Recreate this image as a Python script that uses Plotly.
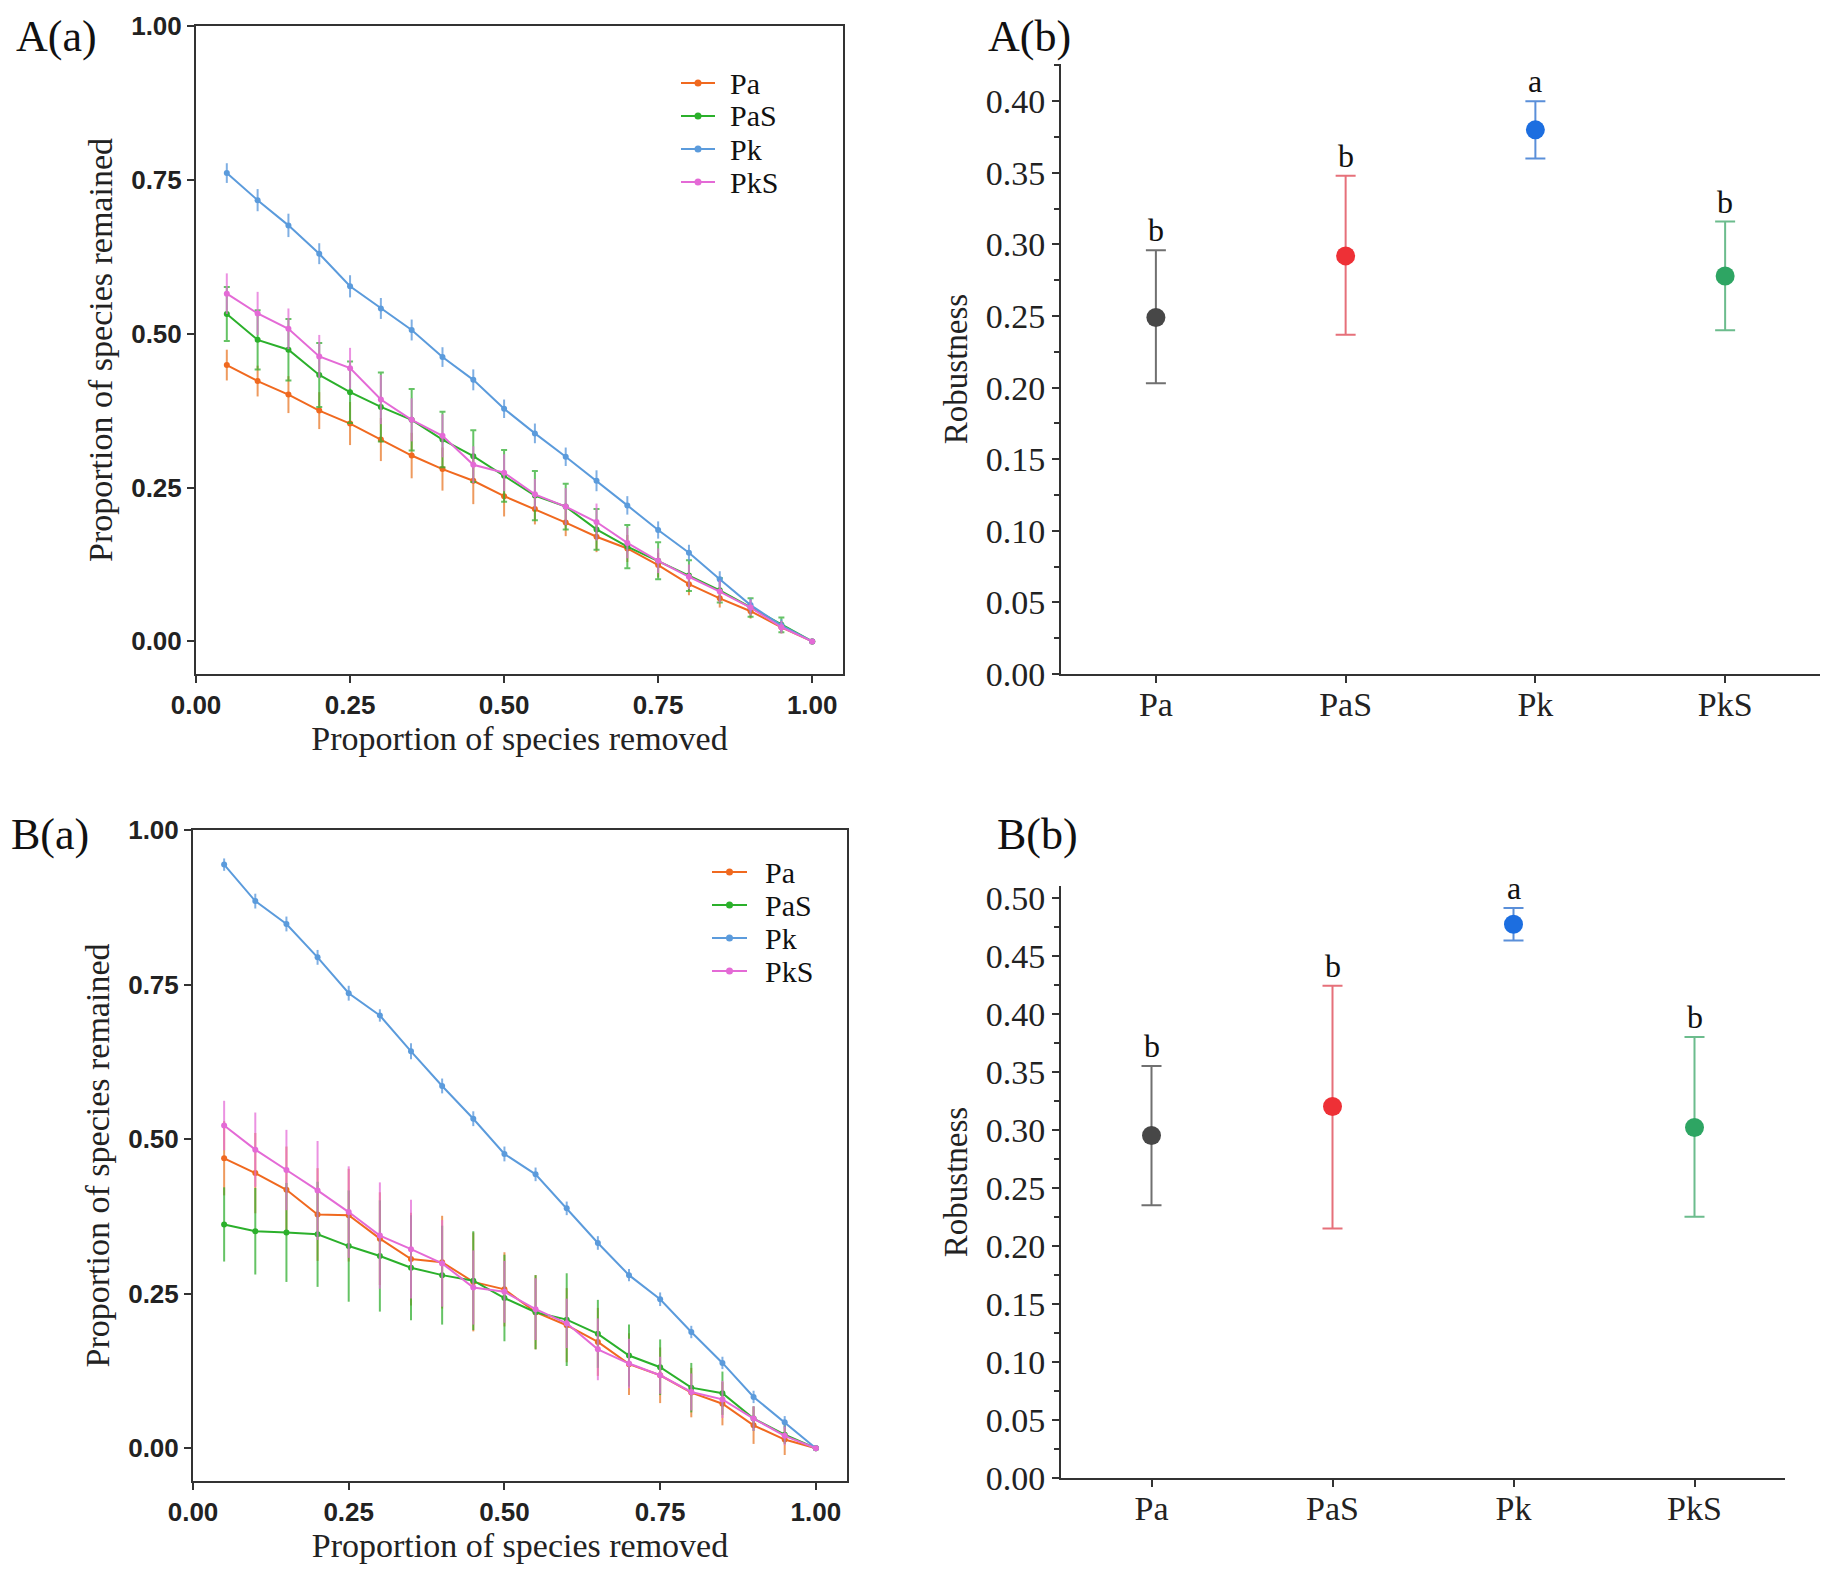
"""
Robustness of the networks to species removal.
Left panels: attack tolerance curves, right panels: robustness per treatment.
"""

import plotly.graph_objects as go

# Proportion of species removed (x of the tolerance curves)
removed = [0.05, 0.10, 0.15, 0.20, 0.25, 0.30, 0.35, 0.40, 0.45, 0.50,
           0.55, 0.60, 0.65, 0.70, 0.75, 0.80, 0.85, 0.90, 0.95, 1.00]
series_names = ["Pa", "PaS", "Pk", "PkS"]

# A(a) proportion of species remained
a_pa = [0.449, 0.423, 0.401, 0.375, 0.354, 0.328, 0.302, 0.280, 0.261, 0.236,
        0.215, 0.193, 0.170, 0.151, 0.124, 0.093, 0.070, 0.049, 0.023, 0.0]
a_pa_err = [0.025, 0.025, 0.030, 0.030, 0.035, 0.035, 0.037, 0.035, 0.038, 0.033,
            0.025, 0.022, 0.025, 0.022, 0.020, 0.018, 0.015, 0.012, 0.010, 0.0]
a_pas = [0.532, 0.490, 0.474, 0.433, 0.405, 0.381, 0.360, 0.328, 0.301, 0.269,
         0.237, 0.219, 0.182, 0.154, 0.131, 0.107, 0.083, 0.055, 0.027, 0.0]
a_pas_err = [0.044, 0.048, 0.050, 0.052, 0.050, 0.056, 0.050, 0.045, 0.042, 0.042,
             0.040, 0.037, 0.033, 0.035, 0.030, 0.025, 0.020, 0.015, 0.012, 0.0]
a_pk = [0.761, 0.717, 0.676, 0.630, 0.577, 0.541, 0.506, 0.462, 0.425, 0.378,
        0.338, 0.300, 0.261, 0.221, 0.181, 0.144, 0.101, 0.059, 0.026, 0.0]
a_pk_err = [0.016, 0.018, 0.019, 0.017, 0.018, 0.017, 0.017, 0.016, 0.017, 0.015,
            0.016, 0.015, 0.017, 0.015, 0.014, 0.013, 0.013, 0.011, 0.010, 0.0]
a_pks = [0.565, 0.533, 0.508, 0.463, 0.444, 0.393, 0.360, 0.334, 0.287, 0.274,
         0.239, 0.219, 0.194, 0.160, 0.131, 0.105, 0.081, 0.055, 0.023, 0.0]
a_pks_err = [0.033, 0.035, 0.033, 0.035, 0.033, 0.040, 0.035, 0.035, 0.030, 0.030,
             0.025, 0.030, 0.030, 0.025, 0.020, 0.020, 0.018, 0.013, 0.010, 0.0]

# B(a) proportion of species remained
b_pa = [0.469, 0.445, 0.418, 0.378, 0.377, 0.339, 0.306, 0.301, 0.269, 0.257,
        0.220, 0.199, 0.172, 0.136, 0.118, 0.090, 0.072, 0.037, 0.014, 0.0]
b_pa_err = [0.060, 0.065, 0.070, 0.075, 0.075, 0.075, 0.075, 0.075, 0.080, 0.060,
            0.060, 0.060, 0.055, 0.050, 0.045, 0.040, 0.035, 0.030, 0.025, 0.0]
b_pas = [0.362, 0.351, 0.349, 0.346, 0.327, 0.311, 0.292, 0.280, 0.271, 0.243,
         0.220, 0.208, 0.185, 0.150, 0.131, 0.098, 0.089, 0.048, 0.022, 0.0]
b_pas_err = [0.060, 0.070, 0.080, 0.085, 0.090, 0.090, 0.085, 0.080, 0.080, 0.070,
             0.060, 0.075, 0.055, 0.050, 0.045, 0.040, 0.035, 0.020, 0.015, 0.0]
b_pk = [0.944, 0.885, 0.848, 0.794, 0.736, 0.700, 0.642, 0.586, 0.533, 0.476,
        0.443, 0.388, 0.332, 0.280, 0.241, 0.188, 0.138, 0.083, 0.042, 0.0]
b_pk_err = [0.010, 0.012, 0.012, 0.012, 0.012, 0.010, 0.013, 0.012, 0.012, 0.012,
            0.011, 0.011, 0.011, 0.010, 0.011, 0.010, 0.010, 0.010, 0.010, 0.0]
b_pks = [0.522, 0.483, 0.450, 0.417, 0.382, 0.344, 0.322, 0.299, 0.260, 0.253,
         0.225, 0.202, 0.160, 0.137, 0.118, 0.091, 0.079, 0.048, 0.020, 0.0]
b_pks_err = [0.040, 0.060, 0.065, 0.080, 0.074, 0.086, 0.080, 0.070, 0.060, 0.050,
             0.050, 0.040, 0.050, 0.040, 0.030, 0.030, 0.030, 0.020, 0.015, 0.0]

# Robustness per treatment (mean, lower and upper ends of the bars)
groups = ["Pa", "PaS", "Pk", "PkS"]
a_rob = [0.249, 0.292, 0.380, 0.278]
a_rob_lo = [0.203, 0.237, 0.360, 0.240]
a_rob_hi = [0.296, 0.348, 0.400, 0.316]
a_letters = ["b", "b", "a", "b"]
b_rob = [0.295, 0.320, 0.477, 0.302]
b_rob_lo = [0.235, 0.215, 0.463, 0.225]
b_rob_hi = [0.355, 0.424, 0.491, 0.380]
b_letters = ["b", "b", "a", "b"]

line_colors = ["#f0691f", "#2bb02b", "#5b9bdc", "#e46ad6"]
err_colors = ["rgba(232,120,40,0.75)", "rgba(50,175,50,0.75)",
              "rgba(95,155,220,0.8)", "rgba(228,110,215,0.75)"]
dot_colors = ["#474747", "#ee3036", "#1c6ee0", "#2ea563"]
bar_colors = ["#707070", "#e6707a", "#5a8fd9", "#6cbc8d"]

SERIF = "Liberation Serif"
SANS = "Liberation Sans"
W, H = 1831, 1573
OFF = 8  # the page body margin shifts the figure by this many pixels


def px(x):
    """Pixel column in the picture -> paper x."""
    return (x - OFF) / W


def py(y):
    """Pixel row in the picture -> paper y."""
    return 1 - (y - OFF) / H


def add_curves(fig, series, xa, ya, cap_widths):
    """Adds the four tolerance curves of one panel."""
    for i, (y, err) in enumerate(series):
        fig.add_trace(go.Scatter(
            x=removed, y=y, name=series_names[i], mode="lines+markers",
            showlegend=False,
            line=dict(color=line_colors[i], width=2),
            marker=dict(color=line_colors[i], size=6),
            error_y=dict(type="data", array=err, color=err_colors[i],
                         thickness=2, width=cap_widths[i]),
            xaxis=xa, yaxis=ya,
        ))


def add_legend(fig, x_line, x_text, y_top, row_gap):
    """Draws the small in-plot legend (line sample with dot, then name)."""
    for i, name in enumerate(series_names):
        yy = py(y_top + i * row_gap)
        fig.add_shape(type="line", xref="paper", yref="paper",
                      x0=px(x_line[0]), x1=px(x_line[1]), y0=yy, y1=yy,
                      line=dict(color=line_colors[i], width=2))
        fig.add_shape(type="circle", xref="paper", yref="paper",
                      xsizemode="pixel", ysizemode="pixel",
                      xanchor=px((x_line[0] + x_line[1]) / 2), yanchor=yy,
                      x0=-3.5, x1=3.5, y0=-3.5, y1=3.5,
                      fillcolor=line_colors[i], line=dict(width=0))
        fig.add_annotation(text=name, x=px(x_text), y=yy,
                           xref="paper", yref="paper", xanchor="left", yanchor="middle",
                           showarrow=False,
                           font=dict(family=SERIF, size=30, color="#111"))


def add_robustness(fig, mean, lo, hi, letters, xa, ya):
    """Adds the robustness points with their bars and letters."""
    for i, g in enumerate(groups):
        fig.add_trace(go.Scatter(
            x=[g], y=[mean[i]], mode="markers", showlegend=False,
            marker=dict(color=dot_colors[i], size=19),
            error_y=dict(type="data", symmetric=False,
                         array=[hi[i] - mean[i]], arrayminus=[mean[i] - lo[i]],
                         color=bar_colors[i], thickness=2, width=10),
            xaxis=xa, yaxis=ya,
        ))
        fig.add_annotation(x=g, y=hi[i], text=letters[i], showarrow=False,
                           xref=xa, yref=ya, yanchor="bottom", yshift=0,
                           font=dict(family=SERIF, size=32, color="#111"))


def curve_axes(domain_x, domain_y, anchor_x, anchor_y):
    """Axis settings for a boxed tolerance panel."""
    common = dict(showline=True, linecolor="#333", linewidth=2, mirror=True,
                  ticks="outside", ticklen=7, tickwidth=2, tickcolor="#333",
                  showgrid=False, zeroline=False, automargin=False,
                  tickfont=dict(family=SANS, size=26, color="#222", weight="bold"))
    xaxis = dict(common, domain=domain_x, anchor=anchor_y, range=[0, 1.05],
                 tickvals=[0, 0.25, 0.5, 0.75, 1.0], tickformat=".2f",
                 title=dict(text="Proportion of species removed", standoff=6,
                            font=dict(family=SERIF, size=34, color="#222")))
    yaxis = dict(common, domain=domain_y, anchor=anchor_x, range=[-0.053, 1.0],
                 tickvals=[0, 0.25, 0.5, 0.75, 1.0], tickformat=".2f",
                 title=dict(text="Proportion of species remained", standoff=8,
                            font=dict(family=SERIF, size=34, color="#222")))
    return xaxis, yaxis


def rob_axes(domain_x, domain_y, anchor_x, anchor_y, ytop):
    """Axis settings for an open robustness panel."""
    common = dict(showline=True, linecolor="#333", linewidth=2, mirror=False,
                  ticks="outside", ticklen=7, tickwidth=2, tickcolor="#333",
                  showgrid=False, zeroline=False, automargin=False,
                  tickfont=dict(family=SERIF, size=34, color="#222"))
    xaxis = dict(common, domain=domain_x, anchor=anchor_y, range=[-0.5, 3.5],
                 type="category", categoryorder="array", categoryarray=groups,
                 ticklabelstandoff=-8)
    yaxis = dict(common, domain=domain_y, anchor=anchor_x, range=[0, ytop],
                 tick0=0, dtick=0.05, tickformat=".2f",
                 minor=dict(ticks="outside", ticklen=5, tickwidth=1.5,
                            tickcolor="#333", dtick=0.025, showgrid=False),
                 title=dict(text="Robustness", standoff=8,
                            font=dict(family=SERIF, size=33, color="#222")))
    return xaxis, yaxis


def main():
    fig = go.Figure()

    add_curves(fig, [(a_pa, a_pa_err), (a_pas, a_pas_err),
                     (a_pk, a_pk_err), (a_pks, a_pks_err)],
               "x", "y", [0, 3, 0, 0])
    add_robustness(fig, a_rob, a_rob_lo, a_rob_hi, a_letters, "x2", "y2")
    add_curves(fig, [(b_pa, b_pa_err), (b_pas, b_pas_err),
                     (b_pk, b_pk_err), (b_pks, b_pks_err)],
               "x3", "y3", [0, 0, 0, 0])
    add_robustness(fig, b_rob, b_rob_lo, b_rob_hi, b_letters, "x4", "y4")

    add_legend(fig, (681, 715), 728, 83, 33)
    add_legend(fig, (712, 747), 763, 872, 33)

    x1, y1 = curve_axes([px(196), px(843)], [py(674), py(26)], "x", "y")
    x2, y2 = rob_axes([px(1061), px(1820)], [py(674), py(64)], "x2", "y2", 0.426)
    x3, y3 = curve_axes([px(193), px(847)], [py(1481), py(830)], "x3", "y3")
    x4, y4 = rob_axes([px(1061), px(1785)], [py(1478), py(886)], "x4", "y4", 0.51)

    labels = [("A(a)", 14, 36), ("A(b)", 986, 36), ("B(a)", 9, 834), ("B(b)", 995, 834)]
    for text, lx, ly in labels:
        fig.add_annotation(text=text, x=px(lx), y=py(ly), xref="paper", yref="paper",
                           xanchor="left", yanchor="middle", showarrow=False,
                           font=dict(family=SERIF, size=44, color="#111"))

    fig.update_layout(
        width=W, height=H,
        margin=dict(l=0, r=0, t=0, b=0, autoexpand=False),
        paper_bgcolor="white", plot_bgcolor="white",
        xaxis=x1, yaxis=y1, xaxis2=x2, yaxis2=y2,
        xaxis3=x3, yaxis3=y3, xaxis4=x4, yaxis4=y4,
        showlegend=False,
    )

    fig.write_html("out.html")


if __name__ == "__main__":
    main()
